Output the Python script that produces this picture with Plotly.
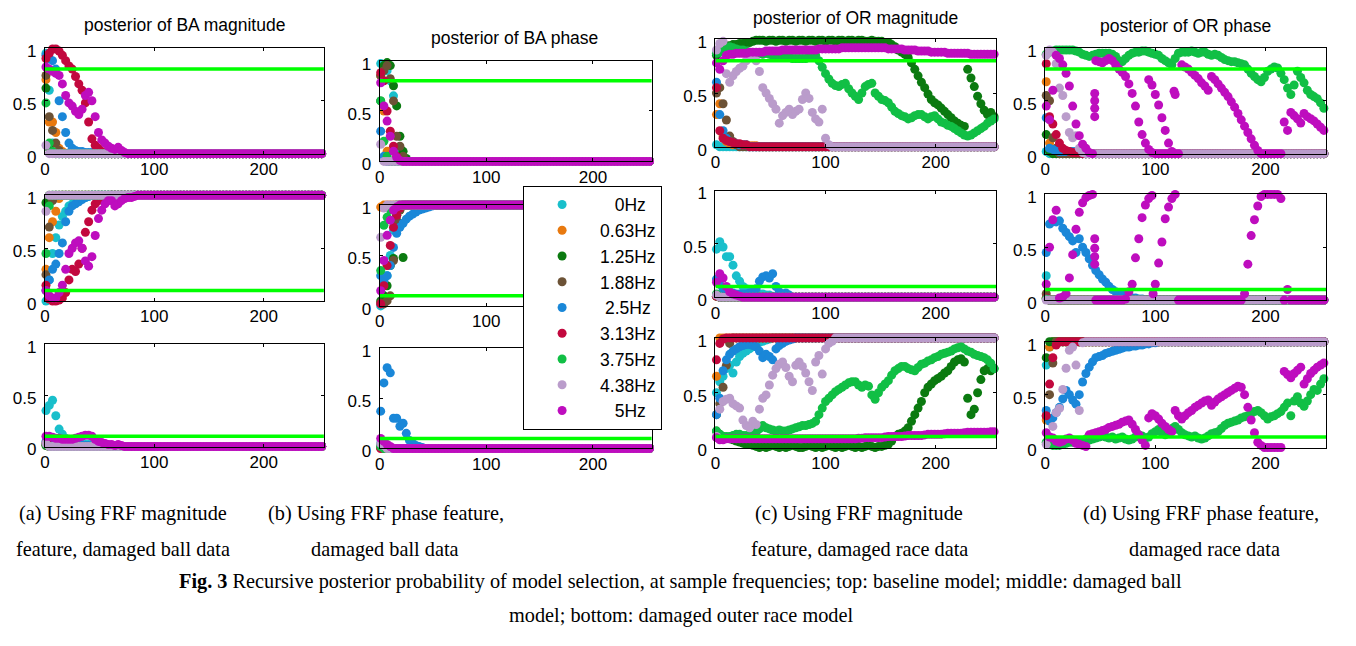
import plotly.graph_objects as go

# ---------------------------------------------------------------- data
SAMPLES = list(range(1, 257, 3))          # recursion step (sample index) of each plotted posterior
N = len(SAMPLES)


def settle(head, tail):
    vals = list(head)[:N]
    return vals + [tail] * (N - len(vals))


FREQ_LABELS = ["0Hz", "0.63Hz", "1.25Hz", "1.88Hz", "2.5Hz", "3.13Hz", "3.75Hz", "4.38Hz", "5Hz"]
FREQ_COLORS = ["#19BFCB", "#E8790F", "#0B7A10", "#6C5236", "#1A87D8",
               "#C2083E", "#11BF45", "#BA9CCB", "#BE0DBE"]
LEGEND_PAD = [3, 0, 0, 0, 1, 0, 0, 0, 3]   # non-breaking spaces so the labels look centred

THRESH_TOP = 0.8     # green decision line, baseline-model row
THRESH_LOW = 0.1     # green decision line, damaged-model rows
X_END = 256

COL_TITLES = ["posterior of BA magnitude", "posterior of BA phase",
              "posterior of OR magnitude", "posterior of OR phase"]

# ---- (a) FRF magnitude feature, damaged ball data
A_BASE = [
    settle([0.95, 0.6, 0.1, 0.02], 0),
    settle([0.7, 0.3, 0.3, 0.2, 0.05, 0.02], 0),
    settle([0.62, 0.05, 0.01], 0),
    settle([0.74, 0.35, 0.22, 0.1, 0.03], 0),
    settle([0.93, 0.9, 0.88, 0.8, 0.5, 0.35, 0.2, 0.1, 0.05, 0.03, 0.02, 0.02, 0.01, 0.01, 0.01, 0.01, 0.01], 0),
    settle([0.9, 0.95, 0.99, 0.99, 0.97, 0.93, 0.88, 0.83, 0.8, 0.73, 0.66, 0.6, 0.48, 0.3, 0.14, 0.08,
            0.05, 0.02], 0),
    settle([0.48, 0.1, 0.02], 0),
    settle([0.08], 0),
    settle([0.82, 0.8, 0.78, 0.76, 0.74, 0.66, 0.55, 0.48, 0.45, 0.4, 0.37, 0.42, 0.55, 0.58, 0.5, 0.35,
            0.2, 0.13, 0.1, 0.07, 0.05, 0.04, 0.06, 0.03, 0.01], 0),
]
A_BALL = [
    settle([0.0, 0.2, 0.45, 0.6, 0.72, 0.8, 0.85, 0.9, 0.92, 0.95, 0.96, 0.97, 0.98, 0.99], 1),
    settle([0.3, 0.6, 0.75, 0.85, 0.97], 1),
    settle([0.93], 1),
    settle([0.25, 0.7, 0.95], 1),
    settle([0.1, 0.2, 0.3, 0.35, 0.45, 0.55, 0.75, 0.85, 0.9, 0.92, 0.94, 0.96, 0.98, 0.99], 1),
    settle([0.15, 0.02, 0.0, 0.0, 0.01, 0.03, 0.08, 0.2, 0.3, 0.28, 0.35, 0.5, 0.65, 0.75, 0.86, 0.92,
            0.95, 0.97, 0.98, 0.99], 1),
    settle([0.45, 0.9], 1),
    settle([0.85], 1),
    settle([0.1, 0.05, 0.03, 0.03, 0.08, 0.15, 0.3, 0.45, 0.5, 0.55, 0.57, 0.5, 0.38, 0.33, 0.42, 0.62,
            0.78, 0.86, 0.92, 0.95, 0.95, 0.9, 0.92, 0.95, 0.97, 0.98, 0.98, 0.99], 1),
]
A_OR = [
    settle([0.35, 0.4, 0.45, 0.3, 0.17, 0.12, 0.08, 0.06, 0.05, 0.04, 0.03, 0.02, 0.02, 0.02, 0.02,
            0.02, 0.02], 0),
    settle([0.02], 0),
    settle([0.01], 0),
    settle([0.02], 0),
    settle([0.05, 0.03, 0.02, 0.02, 0.01, 0.01, 0.01, 0.01, 0.01, 0.01, 0.01, 0.01, 0.01, 0.01], 0),
    settle([0.03, 0.01], 0),
    settle([0.02], 0),
    settle([0.03], 0),
    settle([0.1, 0.1, 0.09, 0.08, 0.08, 0.07, 0.07, 0.07, 0.07, 0.08, 0.09, 0.1, 0.11, 0.11, 0.1, 0.07,
            0.05, 0.04, 0.03, 0.02, 0.02, 0.01, 0.02, 0.01], 0),
]

# ---- (b) FRF phase feature, damaged ball data
B_BASE = [
    settle([0.97, 0.95, 0.9, 0.8, 0.65, 0.1, 0.02], 0),
    settle([0.85, 0.5, 0.1], 0),
    settle([0.6, 0.95, 0.98, 0.95, 0.75, 0.55, 0.25, 0.1, 0.03], 0),
    settle([0.85, 0.9, 0.95, 0.82, 0.6, 0.25, 0.15, 0.05], 0),
    settle([0.3, 0.05], 0),
    settle([0.88, 0.8, 0.5, 0.3, 0.15, 0.05], 0),
    settle([0.6, 0.2, 0.05], 0),
    settle([0.17], 0),
    settle([0.78, 0.55, 0.4, 0.25, 0.1, 0.04, 0.01], 0),
]
B_BALL = [
    settle([0.0, 0.1, 0.3, 0.5, 0.75, 0.9, 0.97], 1),
    settle([0.98], 1),
    settle([0.05, 0.1, 0.2, 0.4, 0.47, 0.9, 0.95, 0.48], 1),
    settle([0.03, 0.02, 0.05, 0.1, 0.45, 0.85, 0.95], 1),
    settle([0.3, 0.25, 0.3, 0.4, 0.58, 0.72, 0.78, 0.82, 0.86, 0.89, 0.91, 0.93, 0.95, 0.96, 0.97, 0.98,
            0.99], 1),
    settle([0.02, 0.2, 0.4, 0.6, 0.78, 0.9, 0.97], 1),
    settle([0.35, 0.8, 0.88, 0.95, 0.98], 1),
    settle([0.68, 0.97], 1),
    settle([0.15, 0.45, 0.7, 0.85, 0.95, 0.98], 1),
]
B_OR = [
    settle([0.05, 0.02], 0),
    settle([0.01], 0),
    settle([0.01], 0),
    settle([0.01], 0),
    settle([0.37, 0.65, 0.8, 0.75, 0.3, 0.3, 0.22, 0.25, 0.15, 0.08, 0.05, 0.03, 0.02, 0.01], 0),
    settle([0.0], 0),
    settle([0.02], 0),
    settle([0.05, 0.03], 0),
    settle([0.1, 0.07, 0.04, 0.02], 0),
]

# ---- (c) FRF magnitude feature, damaged race data
C_BASE = [
    settle([0.02], 0),
    settle([0.3, 0.4, 0.1, 0.05, 0.03, 0.02, 0.02, 0.02, 0.01, 0.01, 0.01, 0.01, 0.01], 0),
    settle([0.85, 0.9, 0.93, 0.94, 0.94, 0.95, 0.95, 0.96, 0.96, 0.97,
            0.97, 0.98, 0.99, 0.99, 0.99, 0.98, 0.99, 0.99, 0.98, 0.99,
            0.99, 0.98, 0.99, 0.99, 0.98, 0.99, 0.99, 0.98, 0.99, 0.99,
            0.98, 0.99, 0.99, 0.98, 0.99, 0.99, 0.98, 0.99, 0.99, 0.98,
            0.99, 0.99, 0.98, 0.99, 0.99, 0.98, 0.98, 0.99, 0.98, 0.98,
            0.98, 0.97, 0.97, 0.95, 0.93, 0.9, 0.88, 0.86, 0.83, 0.78,
            0.72, 0.66, 0.6, 0.55, 0.49, 0.44, 0.41, 0.39, 0.36, 0.33,
            0.3, 0.27, 0.24, 0.22, 0.2, 0.19, 0.72, 0.64, 0.56, 0.47,
            0.4, 0.34, 0.3, 0.32, 0.28, 0.25], 0.25),
    settle([0.5, 0.55, 0.4, 0.25, 0.1, 0.05, 0.02], 0),
    settle([0.6, 0.3, 0.15, 0.08, 0.05, 0.04, 0.03, 0.02, 0.02, 0.02], 0),
    settle([0.55, 0.15, 0.08, 0.06, 0.05, 0.04, 0.03, 0.03, 0.02, 0.02], 0),
    settle([0.87, 0.88, 0.9, 0.92, 0.93, 0.92, 0.91, 0.9, 0.9, 0.89,
            0.88, 0.87, 0.86, 0.87, 0.86, 0.87, 0.86, 0.85, 0.85, 0.84,
            0.84, 0.83, 0.83, 0.82, 0.82, 0.82, 0.82, 0.82, 0.83, 0.85,
            0.85, 0.8, 0.74, 0.68, 0.63, 0.59, 0.57, 0.56, 0.58, 0.59,
            0.54, 0.5, 0.47, 0.44, 0.5, 0.56, 0.58, 0.59, 0.5, 0.47,
            0.44, 0.43, 0.41, 0.37, 0.33, 0.31, 0.29, 0.28, 0.26, 0.27,
            0.29, 0.3, 0.3, 0.28, 0.26, 0.28, 0.29, 0.26, 0.23, 0.22,
            0.2, 0.19, 0.17, 0.15, 0.13, 0.11, 0.1, 0.11, 0.13, 0.15,
            0.17, 0.19, 0.22, 0.24, 0.26, 0.28], 0.28),
    settle([0.9, 0.96, 0.98, 0.68, 0.6, 0.66, 0.7, 0.73, 0.75, 0.8, 0.84, 0.86, 0.8, 0.7, 0.55, 0.5,
            0.45, 0.4, 0.35, 0.22, 0.29, 0.32, 0.35, 0.3, 0.33, 0.35, 0.44, 0.5, 0.45, 0.32, 0.26, 0.23,
            0.35, 0.08, 0.02], 0),
    settle([0.78, 0.72, 0.8, 0.85, 0.86, 0.86, 0.87, 0.87, 0.87, 0.87,
            0.88, 0.88, 0.88, 0.88, 0.88, 0.89, 0.89, 0.89, 0.89, 0.89,
            0.9, 0.9, 0.9, 0.9, 0.9, 0.9, 0.9, 0.9, 0.9, 0.9,
            0.9, 0.91, 0.91, 0.91, 0.91, 0.91, 0.91, 0.91, 0.92, 0.92,
            0.92, 0.92, 0.92, 0.92, 0.92, 0.92, 0.92, 0.92, 0.92, 0.92,
            0.92, 0.92, 0.91, 0.91, 0.91, 0.91, 0.91, 0.9, 0.9, 0.9,
            0.9, 0.89, 0.89, 0.89, 0.89, 0.88, 0.88, 0.88, 0.88, 0.88,
            0.87, 0.87, 0.87, 0.87, 0.87, 0.87, 0.87, 0.86, 0.86, 0.86,
            0.86, 0.86, 0.86, 0.86, 0.86, 0.86], 0.86),
]
C_BALL = [
    settle([0.45, 0.52, 0.47, 0.38, 0.38, 0.3, 0.2, 0.15, 0.1, 0.08, 0.06, 0.05, 0.04, 0.03, 0.03,
            0.02, 0.02, 0.01], 0),
    settle([0.01], 0),
    settle([0.01], 0),
    settle([0.01], 0),
    settle([0.17, 0.12, 0.08, 0.06, 0.05, 0.04, 0.03, 0.03, 0.03, 0.03, 0.04, 0.05, 0.08, 0.15, 0.19,
            0.2, 0.18, 0.22, 0.1, 0.05, 0.03, 0.04, 0.02], 0),
    settle([0.01], 0),
    settle([0.03], 0),
    settle([0.02], 0),
    settle([0.14, 0.22, 0.18, 0.1, 0.05, 0.03, 0.02, 0.01], 0),
]
C_OR = [
    settle([0.5, 0.6, 0.65, 0.72, 0.75, 0.68, 0.78, 0.83, 0.86, 0.88, 0.9, 0.92, 0.94, 0.96, 0.97,
            0.98, 0.99], 1),
    settle([0.65], 1),
    settle([0.15, 0.12, 0.1, 0.09, 0.08, 0.07, 0.06, 0.05, 0.04, 0.03,
            0.03, 0.02, 0.01, 0.0, 0.01, 0.0, 0.01, 0.02, 0.01, 0.0,
            0.01, 0.0, 0.01, 0.02, 0.01, 0.0, 0.0, 0.01, 0.02, 0.01,
            0.0, 0.01, 0.0, 0.01, 0.02, 0.01, 0.0, 0.01, 0.0, 0.01,
            0.02, 0.01, 0.0, 0.01, 0.0, 0.01, 0.02, 0.01, 0.0, 0.01,
            0.01, 0.02, 0.03, 0.06, 0.1, 0.12, 0.13, 0.15, 0.18, 0.24,
            0.3, 0.36, 0.42, 0.5, 0.55, 0.58, 0.61, 0.63, 0.65, 0.68,
            0.7, 0.74, 0.78, 0.8, 0.81, 0.78, 0.45, 0.3, 0.35, 0.5,
            0.62, 0.7, 0.72, 0.7, 0.72, 0.75], 0.75),
    settle([0.3, 0.4, 0.55, 0.75, 0.95], 1),
    settle([0.3, 0.45, 0.7, 0.8, 0.85, 0.88, 0.9, 0.92, 0.93, 0.94, 0.94, 0.93, 0.92, 0.88, 0.82, 0.85,
            0.83, 0.8, 0.9, 0.93, 0.95, 0.97, 0.98, 0.99], 1),
    settle([0.8, 0.95, 0.99], 1),
    settle([0.15, 0.12, 0.1, 0.1, 0.1, 0.11, 0.12, 0.12, 0.11, 0.11,
            0.1, 0.12, 0.14, 0.17, 0.2, 0.18, 0.17, 0.16, 0.15, 0.16,
            0.15, 0.15, 0.16, 0.17, 0.18, 0.19, 0.2, 0.2, 0.21, 0.22,
            0.24, 0.3, 0.36, 0.42, 0.45, 0.48, 0.51, 0.53, 0.55, 0.57,
            0.59, 0.6, 0.6, 0.57, 0.55, 0.57, 0.56, 0.48, 0.44, 0.5,
            0.55, 0.58, 0.61, 0.66, 0.7, 0.72, 0.74, 0.74, 0.72, 0.71,
            0.7, 0.73, 0.76, 0.77, 0.79, 0.8, 0.82, 0.83, 0.85, 0.86,
            0.87, 0.88, 0.9, 0.91, 0.92, 0.9, 0.88, 0.87, 0.85, 0.84,
            0.83, 0.82, 0.8, 0.77, 0.72, 0.7], 0.7),
    settle([0.1, 0.35, 0.42, 0.44, 0.45, 0.4, 0.38, 0.36, 0.25, 0.2, 0.18, 0.24, 0.21, 0.35, 0.45, 0.48,
            0.57, 0.66, 0.72, 0.76, 0.78, 0.73, 0.65, 0.6, 0.75, 0.78, 0.74, 0.68, 0.6, 0.52, 0.78, 0.84,
            0.67, 0.9, 0.95, 0.97], 1),
    settle([0.09, 0.07, 0.07, 0.08, 0.08, 0.08, 0.08, 0.08, 0.08, 0.08,
            0.08, 0.08, 0.08, 0.08, 0.08, 0.08, 0.08, 0.08, 0.08, 0.08,
            0.08, 0.08, 0.08, 0.08, 0.08, 0.08, 0.08, 0.08, 0.08, 0.08,
            0.08, 0.08, 0.08, 0.08, 0.08, 0.08, 0.08, 0.08, 0.08, 0.08,
            0.08, 0.08, 0.08, 0.085, 0.085, 0.09, 0.09, 0.09, 0.09, 0.09,
            0.09, 0.095, 0.1, 0.1, 0.1, 0.1, 0.1, 0.105, 0.11, 0.11,
            0.11, 0.11, 0.11, 0.115, 0.12, 0.12, 0.12, 0.12, 0.12, 0.125,
            0.13, 0.13, 0.13, 0.13, 0.13, 0.135, 0.14, 0.14, 0.14, 0.14,
            0.14, 0.14, 0.14, 0.145, 0.145, 0.145], 0.145),
]

# ---- (d) FRF phase feature, damaged race data
D_BASE = [
    settle([0.02], 0),
    settle([0.68, 0.1, 0.02], 0),
    settle([0.18, 0.02], 0),
    settle([0.55, 0.5, 0.15, 0.05], 0),
    settle([0.34, 0.05, 0.04, 0.03, 0.02, 0.02, 0.02, 0.02, 0.02, 0.02, 0.02], 0),
    settle([0.85, 0.35, 0.28, 0.18, 0.1, 0.05, 0.03, 0.02, 0.01, 0.01, 0.01], 0),
    settle([0.94, 0.96, 0.97, 0.98, 0.98, 0.98, 0.98, 0.98, 0.98, 0.97,
            0.96, 0.94, 0.93, 0.92, 0.93, 0.94, 0.95, 0.95, 0.95, 0.95,
            0.94, 0.92, 0.88, 0.87, 0.9, 0.93, 0.95, 0.96, 0.96, 0.97,
            0.97, 0.96, 0.95, 0.94, 0.93, 0.9, 0.88, 0.86, 0.84, 0.9,
            0.95, 0.96, 0.96, 0.96, 0.97, 0.96, 0.95, 0.96, 0.96, 0.94,
            0.93, 0.94, 0.93, 0.91, 0.89, 0.88, 0.87, 0.87, 0.86, 0.85,
            0.84, 0.8, 0.76, 0.73, 0.7, 0.68, 0.72, 0.78, 0.8, 0.82,
            0.81, 0.76, 0.7, 0.62, 0.56, 0.65, 0.78, 0.72, 0.67, 0.6,
            0.56, 0.54, 0.52, 0.48, 0.43, 0.38], 0.38),
    settle([0.93, 0.98, 0.96, 0.85, 0.62, 0.55, 0.35, 0.2, 0.15, 0.17, 0.05, 0.01], 0),
    settle([0.45, 0.32, 0.6, 0.93, 0.9, 0.84, 0.76, 0.64, 0.45, 0.28,
            0.17, 0.09, 0.05, 0.01, 0.0, 0.88, 0.87, 0.86, 0.88, 0.9,
            0.88, 0.84, 0.8, 0.77, 0.73, 0.66, 0.57, 0.45, 0.3, 0.18,
            0.1, 0.04, 0.01, 0.0, 0.0, 0.0, 0.0, 0.0, 0.0, 0.0,
            0.0, 0.84, 0.82, 0.8, 0.77, 0.74, 0.71, 0.67, 0.64, 0.6,
            0.73, 0.7, 0.66, 0.62, 0.58, 0.54, 0.49, 0.44, 0.38, 0.32,
            0.26, 0.2, 0.14, 0.08, 0.03, 0.0, 0.0, 0.0, 0.0, 0.0,
            0.0, 0.0, 0.3, 0.22, 0.39, 0.36, 0.33, 0.29, 0.38, 0.35,
            0.33, 0.31, 0.28, 0.25, 0.22, 0.35], 0.35),
]
D_BALL = [
    settle([0.23], 0),
    settle([0.02], 0),
    settle([0.01], 0),
    settle([0.06], 0),
    settle([0.45, 0.72, 0.74, 0.74, 0.75, 0.68, 0.64, 0.6, 0.56, 0.45, 0.58, 0.5, 0.45, 0.39, 0.33,
            0.28, 0.24, 0.2, 0.17, 0.13, 0.1, 0.08, 0.06, 0.05, 0.04, 0.03, 0.02, 0.02, 0.01, 0.01], 0),
    settle([0.02], 0),
    settle([0.01], 0),
    settle([0.0], 0),
    settle([0.15, 0.5, 0.76, 0.85, 0.02, 0.03, 0.06, 0.21, 0.43, 0.67,
            0.83, 0.92, 0.97, 0.99, 1.0, 0.0, 0.0, 0.0, 0.0, 0.0,
            0.0, 0.0, 0.0, 0.0, 0.01, 0.08, 0.15, 0.4, 0.58, 0.78,
            0.9, 0.96, 0.99, 0.15, 0.35, 0.55, 0.77, 0.88, 0.96, 1.0,
            0.0, 0.0, 0.0, 0.0, 0.0, 0.0, 0.0, 0.0, 0.0, 0.0,
            0.0, 0.0, 0.0, 0.0, 0.0, 0.0, 0.0, 0.0, 0.0, 0.0,
            0.06, 0.34, 0.61, 0.76, 0.89, 0.98, 1.0, 1.0, 1.0, 1.0,
            1.0, 0.96, 0.0, 0.1, 0.0, 0.0, 0.0, 0.0, 0.0, 0.0,
            0.0, 0.0, 0.0, 0.0, 0.0, 0.0], 0),
]
D_OR = [
    settle([0.78, 0.95], 1),
    settle([0.26, 0.95], 1),
    settle([0.85], 1),
    settle([0.3, 0.5, 0.8], 1),
    settle([0.35, 0.25, 0.28, 0.33, 0.38, 0.46, 0.54, 0.5, 0.45, 0.41, 0.5, 0.62, 0.7, 0.76, 0.81, 0.85,
            0.86, 0.87, 0.89, 0.9, 0.91, 0.92, 0.93, 0.94, 0.95, 0.95, 0.96, 0.96, 0.97, 0.97, 0.98, 0.98,
            0.99, 0.99], 1),
    settle([0.3, 0.6, 0.85, 0.97], 1),
    settle([0.05, 0.03, 0.02, 0.02, 0.02, 0.03, 0.04, 0.05, 0.05, 0.06,
            0.05, 0.06, 0.08, 0.07, 0.08, 0.09, 0.1, 0.11, 0.1, 0.09,
            0.1, 0.08, 0.09, 0.1, 0.08, 0.07, 0.08, 0.1, 0.12, 0.11,
            0.09, 0.1, 0.13, 0.15, 0.17, 0.14, 0.12, 0.15, 0.18, 0.2,
            0.17, 0.14, 0.12, 0.11, 0.1, 0.11, 0.09, 0.08, 0.09, 0.11,
            0.13, 0.14, 0.15, 0.18, 0.21, 0.23, 0.24, 0.25, 0.26, 0.28,
            0.29, 0.3, 0.32, 0.34, 0.35, 0.33, 0.3, 0.27, 0.29, 0.3,
            0.32, 0.34, 0.38, 0.42, 0.3, 0.44, 0.48, 0.42, 0.39, 0.44,
            0.5, 0.55, 0.54, 0.6, 0.65, 0.68], 0.68),
    settle([0.03, 0.1, 0.2, 0.33, 0.37, 0.55, 0.75, 0.92, 0.95, 0.78, 0.35, 0.99], 1),
    settle([0.14, 0.1, 0.09, 0.06, 0.05, 0.06, 0.08, 0.09, 0.07, 0.04,
            0.03, 0.02, 0.01, 0.12, 0.13, 0.14, 0.15, 0.16, 0.17, 0.19,
            0.2, 0.21, 0.22, 0.24, 0.25, 0.26, 0.22, 0.17, 0.12, 0.07,
            0.02, 0.28, 0.32, 0.3, 0.27, 0.23, 0.2, 0.17, 0.15, 0.35,
            0.3, 0.27, 0.3, 0.33, 0.35, 0.38, 0.4, 0.42, 0.44, 0.45,
            0.4, 0.43, 0.46, 0.48, 0.5, 0.52, 0.54, 0.56, 0.58, 0.57,
            0.5, 0.38, 0.26, 0.14, 0.05, 0.02, 0.0, 0.0, 0.0, 0.0,
            0.0, 0.0, 0.72, 0.69, 0.66, 0.7, 0.73, 0.76, 0.6, 0.65,
            0.7, 0.73, 0.76, 0.78, 0.8, 0.7], 0.7),
]

# additional 5 Hz posteriors that overlap other 5 Hz values at the same step (panel d)
D_BASE_5HZ_EXTRA_X = [45, 45, 45, 45, 94, 97, 100, 103, 106, 109, 112, 115, 117, 118]
D_BASE_5HZ_EXTRA_Y = [0.57, 0.5, 0.43, 0.35, 0.7, 0.65, 0.56, 0.46, 0.34, 0.22, 0.1, 0.02, 0.59, 0.56]
D_BALL_5HZ_EXTRA_X = [45, 45, 45, 45, 98]
D_BALL_5HZ_EXTRA_Y = [0.58, 0.49, 0.41, 0.34, 0.06]

PANELS = [[A_BASE, B_BASE, C_BASE, D_BASE],
          [A_BALL, B_BALL, C_BALL, D_BALL],
          [A_OR, B_OR, C_OR, D_OR]]
EXTRAS = {(0, 3): (D_BASE_5HZ_EXTRA_X, D_BASE_5HZ_EXTRA_Y),
          (1, 3): (D_BALL_5HZ_EXTRA_X, D_BALL_5HZ_EXTRA_Y)}
ROW_THRESH = [THRESH_TOP, THRESH_LOW, THRESH_LOW]

# ---------------------------------------------------------------- layout geometry
# target positions are window pixels; the page body keeps the browser's 8px margin,
# so the figure is sized to the window minus that margin and positions are shifted by it.
OFF = 8
PW, PH = 1340, 630


def pxx(x):
    return (x - OFF) / PW


def pxy(y):
    return 1 - (y - OFF) / PH


COL_X = [(40, 320), (376, 649), (713, 995), (1044, 1326)]
COL_ROWS = [[(43, 152), (195, 304), (348, 454)],
            [(56, 160), (205, 309), (352, 456)],
            [(34, 145), (190, 300), (342, 455)],
            [(43, 152), (194, 303), (346, 455)]]
TITLE_POS = [(180, 19.5), (511, 33), (854, 12.5), (1185, 20)]

SANS = "Liberation Sans, Arial, Helvetica, sans-serif"
SERIF = "Liberation Serif, Times New Roman, serif"
MSIZE = 9

fig = go.Figure()
layout_axes = {}

for r in range(3):
    for c in range(4):
        k = r * 4 + c + 1
        xa, ya = f"x{k}", f"y{k}"
        series = PANELS[r][c]
        for f, ys in enumerate(series):
            fig.add_trace(go.Scatter(
                x=SAMPLES, y=ys, xaxis=xa, yaxis=ya, mode="markers",
                marker=dict(color=FREQ_COLORS[f], size=MSIZE, line=dict(width=0)),
                name="\u00a0" * LEGEND_PAD[f] + FREQ_LABELS[f],
                legendgroup=FREQ_LABELS[f], showlegend=(k == 1), cliponaxis=False,
                hovertemplate=FREQ_LABELS[f] + ": %{y:.2f}<extra></extra>"))
            if f == 8 and (r, c) in EXTRAS:
                ex, ey = EXTRAS[(r, c)]
                fig.add_trace(go.Scatter(
                    x=ex, y=ey, xaxis=xa, yaxis=ya, mode="markers",
                    marker=dict(color=FREQ_COLORS[f], size=MSIZE, line=dict(width=0)),
                    legendgroup=FREQ_LABELS[f], showlegend=False, cliponaxis=False,
                    hovertemplate=FREQ_LABELS[f] + ": %{y:.2f}<extra></extra>"))
        th = ROW_THRESH[r]
        fig.add_trace(go.Scatter(
            x=[0, X_END], y=[th, th], xaxis=xa, yaxis=ya, mode="lines",
            line=dict(color="#00FF00", width=3.5), showlegend=False, hoverinfo="skip"))

        L, R = COL_X[c]
        T, B = COL_ROWS[c][r]
        common = dict(showline=True, linecolor="black", linewidth=1, mirror="ticks",
                      ticks="inside", ticklen=3, tickcolor="black", tickwidth=1,
                      showgrid=False, zeroline=False,
                      tickfont=dict(family=SANS, size=17, color="black"))
        layout_axes[f"xaxis{k}"] = dict(common, domain=[pxx(L), pxx(R)], anchor=ya,
                                        range=[0, 255], tickvals=[0, 100, 200])
        layout_axes[f"yaxis{k}"] = dict(common, domain=[pxy(B), pxy(T)], anchor=xa,
                                        range=[0, 1], tickvals=[0, 0.5, 1],
                                        ticktext=["0", "0.5", "1"],
                                        ticklabelshift=3, ticklabelstandoff=4)

annotations = []
for c, (tx, ty) in enumerate(TITLE_POS):
    annotations.append(dict(text=COL_TITLES[c], x=pxx(tx), y=pxy(ty), xref="paper", yref="paper",
                            xanchor="center", yanchor="middle", showarrow=False,
                            font=dict(family=SANS, size=17.5, color="black")))

CAPTIONS = [
    ("(a) Using FRF magnitude", 118, 523), ("feature, damaged ball data", 118, 560),
    ("(b) Using FRF phase feature,", 382, 523), ("damaged ball data", 381, 560),
    ("(c) Using FRF magnitude", 857, 523), ("feature, damaged race data", 858, 560),
    ("(d) Using FRF phase feature,", 1200, 523), ("damaged race data", 1204, 560),
    ("<b>Fig. 3</b> Recursive posterior probability of model selection, at sample frequencies; "
     "top: baseline model; middle: damaged ball", 678, 593),
    ("model; bottom: damaged outer race model", 678, 628),
]
for text, cx, cy in CAPTIONS:
    annotations.append(dict(text=text, x=pxx(cx), y=pxy(cy), xref="paper", yref="paper",
                            xanchor="center", yanchor="middle", showarrow=False,
                            font=dict(family=SERIF, size=20.3, color="black")))

fig.update_layout(
    width=PW, height=PH, autosize=False,
    margin=dict(l=0, r=0, t=0, b=0),
    paper_bgcolor="white", plot_bgcolor="white",
    showlegend=True,
    legend=dict(x=pxx(520), y=pxy(185), xanchor="left", yanchor="top",
                bgcolor="white", bordercolor="black", borderwidth=1,
                font=dict(family=SANS, size=17.5, color="black"),
                itemwidth=66, tracegroupgap=0, traceorder="normal"),
    annotations=annotations,
    **layout_axes,
)

fig.write_html("out.html", config={"displayModeBar": False})
